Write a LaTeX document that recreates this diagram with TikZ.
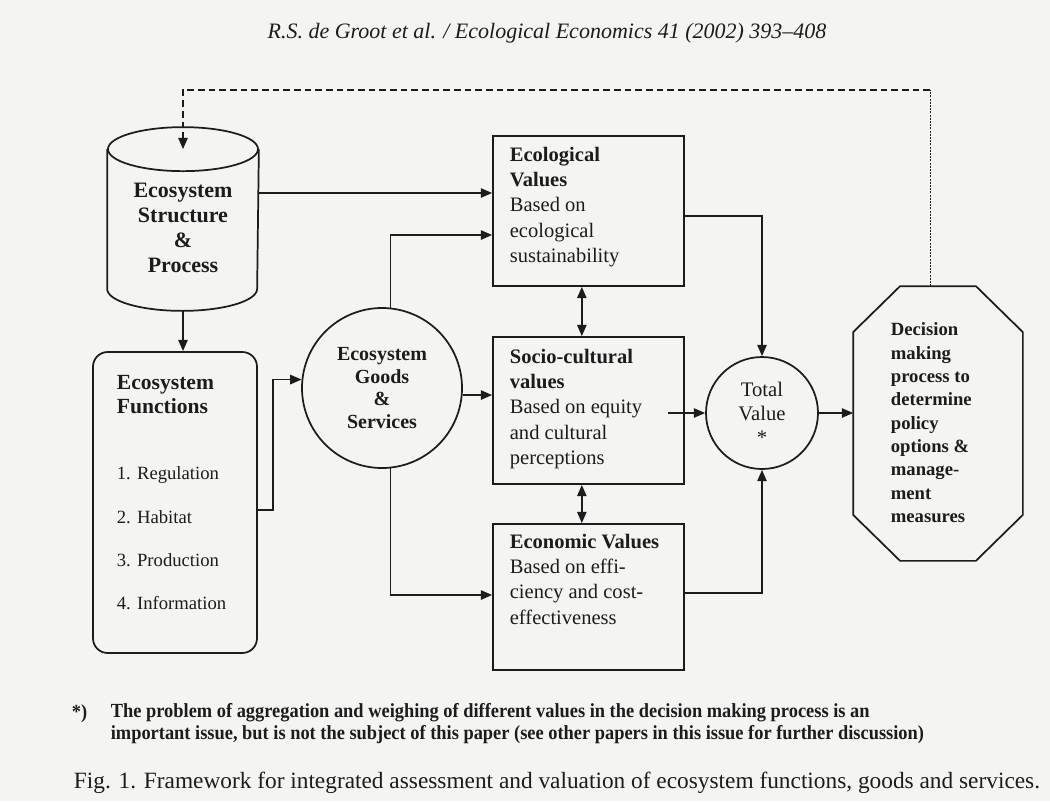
\documentclass[tikz,border=0pt]{standalone}
\usepackage{fontspec}
\setmainfont{Liberation Serif}
\newfontfamily\notefont[FakeStretch=0.92]{Liberation Serif}
\usepackage{tikz}
\usetikzlibrary{arrows.meta,positioning,calc}
\definecolor{paper}{RGB}{244,244,242}
\definecolor{ink}{RGB}{28,28,28}

\begin{document}
\begin{tikzpicture}[x=0.75pt, y=-0.75pt, color=ink, line width=1.3pt,
  arr/.style={-{Triangle[length=8.5pt,width=7pt]}},
  darr/.style={{Triangle[length=8.5pt,width=7pt]}-{Triangle[length=8.5pt,width=7pt]}},
  fbdash/.style={dash pattern=on 5pt off 3pt},
  fbdot/.style={line width=0.7pt,dash pattern=on 1.5pt off 0.9pt},
  valbox/.style={draw,rectangle,inner sep=0pt,minimum width=143.25pt},
  valtxt/.style={font=\fontsize{15.4}{19}\selectfont,align=left,anchor=north west,inner sep=0pt},
  headtxt/.style={font=\bfseries\fontsize{16.5}{18.75}\selectfont,align=center,inner sep=0pt}]
  \fill[paper] (0,0) rectangle (1050,801);
  \useasboundingbox (0,0) rectangle (1050,801);
  %--- running head ---
  \node[font=\itshape\fontsize{16.5}{20}\selectfont] (hdr) at (547,33)
    {R.S. de Groot et al. / Ecological Economics 41 (2002) 393--408};
  %--- cylinder ---
  \node[minimum width=112.5pt,minimum height=103.5pt,inner sep=0pt] (esp) at (183,219) {};
  \draw (esp.north west) -- (esp.south west)
    arc[start angle=180,end angle=0,x radius=75,y radius=22] -- (esp.north east);
  \draw (esp.north) ellipse[x radius=75,y radius=22];
  \node[headtxt] (esptxt) at (183,228) {Ecosystem\\Structure\\\&\\Process};
  %--- functions ---
  \node[draw,rounded corners=11pt,minimum width=123pt,minimum height=225.75pt,inner sep=0pt] (efun) at (175,502.5) {};
  \node[headtxt,align=left,anchor=north west,font=\bfseries\fontsize{16.2}{18}\selectfont] (efunhead) at (116,374) {Ecosystem\\Functions};
  \node[valtxt,font=\fontsize{14}{32.5}\selectfont] (efunlist) at (116,466)
    {1. Regulation\\2. Habitat\\3. Production\\4. Information};
  %--- goods and services ---
  \node[draw,circle,inner sep=0pt,minimum size=120pt,align=center,
    font=\bfseries\fontsize{15}{17}\selectfont] (goods) at (382,388) {Ecosystem\\Goods\\\&\\Services};
  %--- value boxes ---
  \node[valbox,minimum height=112.5pt] (eco) at (588.5,211) {};
  \node[valbox,minimum height=110.25pt] (socio) at (588.5,410.5) {};
  \node[valbox,minimum height=109.5pt] (econ) at (588.5,597) {};
  \node[valtxt] (ecotxt) at (509,146)
    {\textbf{Ecological}\\\textbf{Values}\\Based on\\ecological\\sustainability};
  \node[valtxt] (sociotxt) at (509,348)
    {\textbf{Socio-cultural}\\\textbf{values}\\Based on equity\\and cultural\\perceptions};
  \node[valtxt] (econtxt) at (509,533)
    {\textbf{Economic Values}\\Based on effi-\\ciency and cost-\\effectiveness};
  %--- total value and decision ---
  \node[draw,circle,inner sep=0pt,minimum size=84pt,align=center,
    font=\fontsize{15.5}{18}\selectfont] (total) at (762,413) {Total\\Value\\*};
  \node[inner sep=0pt,minimum width=126pt,minimum height=204.75pt] (dmp) at (938,423.5) {};
  \draw ($(dmp.north west)+(47,0)$) -- ($(dmp.north east)+(-47,0)$) -- ($(dmp.north east)+(0,46)$)
    -- ($(dmp.south east)+(0,-46)$) -- ($(dmp.south east)+(-47,0)$) -- ($(dmp.south west)+(47,0)$)
    -- ($(dmp.south west)+(0,-46)$) -- ($(dmp.north west)+(0,46)$) -- cycle;
  \node[valtxt,font=\bfseries\fontsize{14}{17.5}\selectfont] (dmptxt) at (890,322)
    {Decision\\making\\process to\\determine\\policy\\options \&\\manage-\\ment\\measures};
  %--- connectors ---
  \draw[arr] (esp.east |- 0,193) -- (eco.west |- 0,193);
  \draw[arr] ([yshift=-16.5pt]esp.south) -- (esp.south |- efun.north);
  \draw[arr] (efun.east |- 0,510) -- ++(15,0) |- (goods.174);
  \draw[arr] (goods.84) |- (eco.west |- 0,235);
  \draw[arr] (goods.355) -- (socio.west |- goods.355);
  \draw[arr] (goods.276) |- (econ.west |- 0,595);
  \draw[darr] ([xshift=-5pt]eco.south) -- ([xshift=-5pt]socio.north);
  \draw[darr] ([xshift=-5pt]socio.south) -- ([xshift=-5pt]econ.north);
  \draw[arr] (eco.east |- 0,216) -| (total.north);
  \draw[arr] (econ.east |- 0,593) -| (total.south);
  \coordinate (sv) at (668,413);
  \draw[arr] (sv) -- (total.west);
  \draw[arr] (total.east) -- (dmp.west |- total.east);
  %--- feedback loop ---
  \coordinate (fbc) at (930,90);
  \draw[fbdot] (dmp.north -| fbc) -- (fbc);
  \draw[arr,fbdash] (fbc) -- (esp.north |- fbc) -- (esp.north);
  %--- footnote and caption ---
  \node[anchor=west,font=\notefont\bfseries\fontsize{15}{16.5}\selectfont,inner sep=0pt] (star) at (71,714) {*)};
  \node[anchor=west,align=left,font=\notefont\bfseries\fontsize{15}{16.5}\selectfont,inner sep=0pt] (note) at (110,724)
    {The problem of aggregation and weighing of different values in the decision making process is an\\
     important issue, but is not the subject of this paper (see other papers in this issue for further discussion)};
  \node[font=\fontsize{17.5}{20}\selectfont] (cap) at (557,783)
    {Fig. 1. Framework for integrated assessment and valuation of ecosystem functions, goods and services.};
\end{tikzpicture}
\end{document}
